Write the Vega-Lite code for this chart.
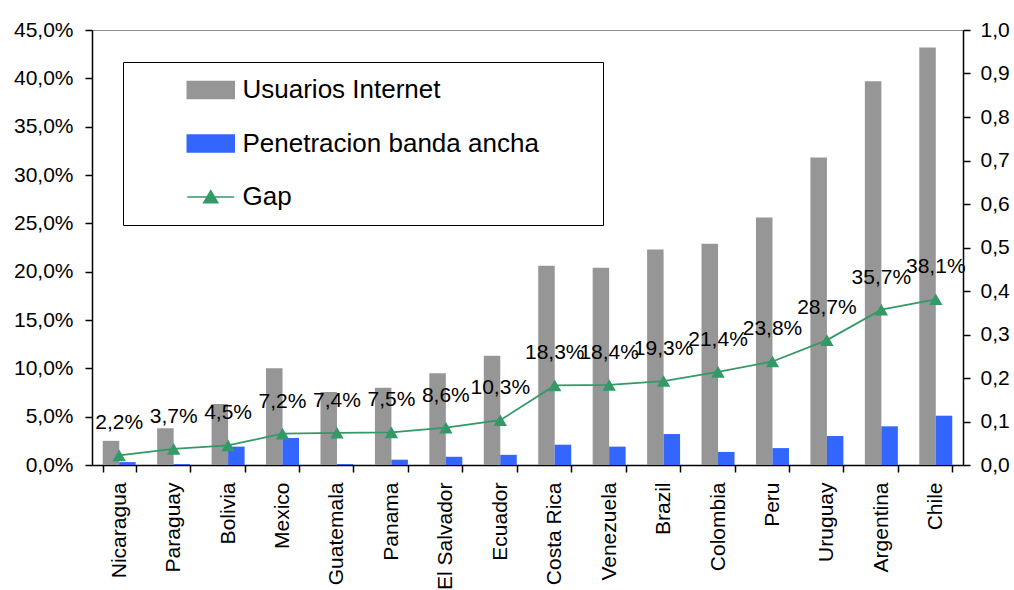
{
  "$schema": "https://vega.github.io/schema/vega-lite/v6.json",
  "width": 871,
  "height": 435,
  "autosize": {"type": "none"},
  "padding": {"left": 92, "top": 30, "right": 51, "bottom": 125},
  "background": "white",
  "config": {
    "locale": {"number": {"decimal": ",", "thousands": ".", "grouping": [3], "currency": ["", " €"]}},
    "font": "Liberation Sans",
    "view": {"stroke": "#8c8c8c", "strokeWidth": 1},
    "axis": {
      "labelFont": "Liberation Sans",
      "labelFontSize": 21,
      "labelColor": "#000000",
      "domainColor": "#000000",
      "domainWidth": 1.5,
      "tickColor": "#000000",
      "tickWidth": 1.5,
      "tickSize": 7,
      "grid": false,
      "title": null
    },
    "legend": {
      "orient": "none",
      "legendX": 31,
      "legendY": 32,
      "title": null,
      "labelFont": "Liberation Sans",
      "labelFontSize": 26,
      "labelColor": "#000000",
      "labelLimit": 0,
      "symbolSize": 552,
      "symbolOffset": 59.75,
      "labelOffset": 18.75,
      "padding": 15,
      "rowPadding": 27.5,
      "strokeColor": "#000000",
      "fillColor": "#ffffff"
    }
  },
  "datasets": {
    "series": [
      {"pais": "Nicaragua", "serie": "Usuarios Internet", "valor": 0.025},
      {"pais": "Nicaragua", "serie": "Penetracion banda ancha", "valor": 0.003},
      {"pais": "Paraguay", "serie": "Usuarios Internet", "valor": 0.038},
      {"pais": "Paraguay", "serie": "Penetracion banda ancha", "valor": 0.001},
      {"pais": "Bolivia", "serie": "Usuarios Internet", "valor": 0.063},
      {"pais": "Bolivia", "serie": "Penetracion banda ancha", "valor": 0.019},
      {"pais": "Mexico", "serie": "Usuarios Internet", "valor": 0.100},
      {"pais": "Mexico", "serie": "Penetracion banda ancha", "valor": 0.028},
      {"pais": "Guatemala", "serie": "Usuarios Internet", "valor": 0.0755},
      {"pais": "Guatemala", "serie": "Penetracion banda ancha", "valor": 0.001},
      {"pais": "Panama", "serie": "Usuarios Internet", "valor": 0.080},
      {"pais": "Panama", "serie": "Penetracion banda ancha", "valor": 0.0055},
      {"pais": "El Salvador", "serie": "Usuarios Internet", "valor": 0.095},
      {"pais": "El Salvador", "serie": "Penetracion banda ancha", "valor": 0.0085},
      {"pais": "Ecuador", "serie": "Usuarios Internet", "valor": 0.113},
      {"pais": "Ecuador", "serie": "Penetracion banda ancha", "valor": 0.0105},
      {"pais": "Costa Rica", "serie": "Usuarios Internet", "valor": 0.206},
      {"pais": "Costa Rica", "serie": "Penetracion banda ancha", "valor": 0.021},
      {"pais": "Venezuela", "serie": "Usuarios Internet", "valor": 0.204},
      {"pais": "Venezuela", "serie": "Penetracion banda ancha", "valor": 0.019},
      {"pais": "Brazil", "serie": "Usuarios Internet", "valor": 0.223},
      {"pais": "Brazil", "serie": "Penetracion banda ancha", "valor": 0.032},
      {"pais": "Colombia", "serie": "Usuarios Internet", "valor": 0.229},
      {"pais": "Colombia", "serie": "Penetracion banda ancha", "valor": 0.0135},
      {"pais": "Peru", "serie": "Usuarios Internet", "valor": 0.256},
      {"pais": "Peru", "serie": "Penetracion banda ancha", "valor": 0.0175},
      {"pais": "Uruguay", "serie": "Usuarios Internet", "valor": 0.318},
      {"pais": "Uruguay", "serie": "Penetracion banda ancha", "valor": 0.030},
      {"pais": "Argentina", "serie": "Usuarios Internet", "valor": 0.397},
      {"pais": "Argentina", "serie": "Penetracion banda ancha", "valor": 0.040},
      {"pais": "Chile", "serie": "Usuarios Internet", "valor": 0.432},
      {"pais": "Chile", "serie": "Penetracion banda ancha", "valor": 0.051}
    ],
    "gap": [
      {"pais": "Nicaragua", "gap": 0.022},
      {"pais": "Paraguay", "gap": 0.037},
      {"pais": "Bolivia", "gap": 0.045},
      {"pais": "Mexico", "gap": 0.072},
      {"pais": "Guatemala", "gap": 0.074},
      {"pais": "Panama", "gap": 0.075},
      {"pais": "El Salvador", "gap": 0.086},
      {"pais": "Ecuador", "gap": 0.103},
      {"pais": "Costa Rica", "gap": 0.183},
      {"pais": "Venezuela", "gap": 0.184},
      {"pais": "Brazil", "gap": 0.193},
      {"pais": "Colombia", "gap": 0.214},
      {"pais": "Peru", "gap": 0.238},
      {"pais": "Uruguay", "gap": 0.287},
      {"pais": "Argentina", "gap": 0.357},
      {"pais": "Chile", "gap": 0.381}
    ]
  },
  "layer": [
    {
      "data": {"name": "series"},
      "mark": {"type": "bar"},
      "encoding": {
        "x": {
          "field": "pais",
          "type": "nominal",
          "sort": null,
          "scale": {
            "domain": ["Nicaragua", "Paraguay", "Bolivia", "Mexico", "Guatemala", "Panama", "El Salvador", "Ecuador", "Costa Rica", "Venezuela", "Brazil", "Colombia", "Peru", "Uruguay", "Argentina", "Chile"],
            "paddingInner": 0.394,
            "paddingOuter": 0.197
          },
          "axis": {"labelAngle": -90, "tickBand": "extent", "labelPadding": 10, "title": null}
        },
        "xOffset": {
          "field": "serie",
          "type": "nominal",
          "scale": {"domain": ["Usuarios Internet", "Penetracion banda ancha"], "paddingInner": 0, "paddingOuter": 0}
        },
        "y": {
          "field": "valor",
          "type": "quantitative",
          "scale": {"domain": [0, 0.45]},
          "axis": {
            "values": [0, 0.05, 0.1, 0.15, 0.2, 0.25, 0.3, 0.35, 0.4, 0.45],
            "format": ".1%",
            "labelPadding": 12,
            "title": null
          }
        },
        "color": {
          "field": "serie",
          "type": "nominal",
          "scale": {
            "domain": ["Usuarios Internet", "Penetracion banda ancha", "Gap"],
            "range": ["#969696", "#3366ff", "#339966"]
          },
          "legend": {
            "encode": {
              "symbols": {
                "update": {
                  "shape": {"signal": "datum.value === 'Gap' ? 'M-2,0H2M0,-0.54L0.6,0.48H-0.6ZM31.8,0' : 'M-2,-0.72H2V0.72H-2ZM31.8,0'"},
                  "fill": {"signal": "datum.value === 'Gap' ? '#339966' : (datum.value === 'Usuarios Internet' ? '#969696' : '#3366ff')"},
                  "stroke": {"signal": "datum.value === 'Gap' ? '#339966' : (datum.value === 'Usuarios Internet' ? '#969696' : '#3366ff')"},
                  "strokeWidth": {"value": 1.5},
                  "opacity": {"value": 1}
                }
              }
            }
          }
        }
      }
    },
    {
      "data": {"name": "gap"},
      "encoding": {
        "x": {"field": "pais", "type": "nominal", "sort": null},
        "y": {
          "field": "gap",
          "type": "quantitative",
          "scale": {"domain": [0, 1]},
          "axis": {
            "orient": "right",
            "values": [0, 0.1, 0.2, 0.3, 0.4, 0.5, 0.6, 0.7, 0.8, 0.9, 1.0],
            "format": ".1f",
            "labelPadding": 10,
            "title": null,
            "encode": {"ticks": {"update": {"x": {"value": -7}}}}
          }
        }
      },
      "layer": [
        {
          "mark": {"type": "line", "strokeWidth": 1.8},
          "encoding": {"color": {"datum": "Gap", "type": "nominal"}}
        },
        {
          "mark": {"type": "point", "shape": "triangle-up", "filled": true, "size": 180, "opacity": 1},
          "encoding": {"color": {"datum": "Gap", "type": "nominal"}}
        },
        {
          "mark": {"type": "text", "dy": -26, "fontSize": 21, "font": "Liberation Sans", "color": "#000000", "align": "center", "baseline": "alphabetic"},
          "encoding": {"text": {"field": "gap", "type": "quantitative", "format": ".1%"}}
        }
      ]
    }
  ],
  "resolve": {"scale": {"y": "independent"}}
}
